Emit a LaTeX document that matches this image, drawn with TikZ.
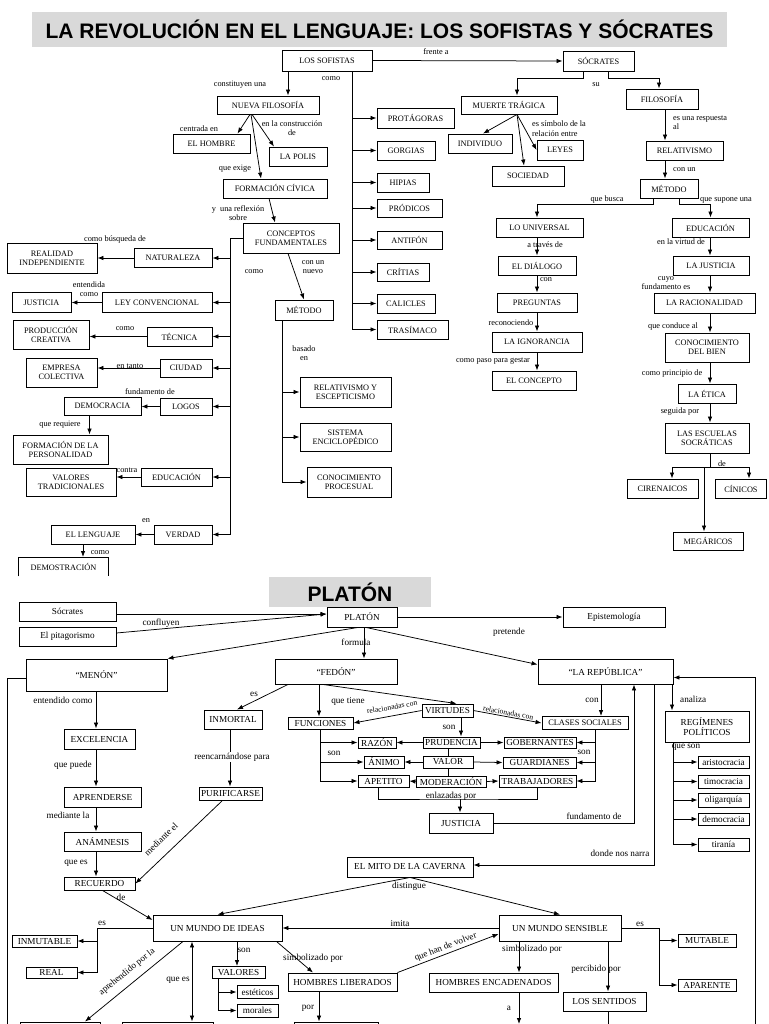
\documentclass[tikz,border=0pt]{standalone}
\usepackage{fontspec}
\setmainfont{Liberation Serif}
\newfontfamily\headfont{Liberation Sans}
\usetikzlibrary{arrows.meta, positioning, calc}
\definecolor{headgray}{RGB}{217,217,217}
\newcommand{\topsz}{\rmfamily\fontsize{8.3}{9.4}\selectfont}
\newcommand{\lowsz}{\rmfamily\fontsize{9.2}{10.2}\selectfont}

\begin{document}
\begin{tikzpicture}[
    x=1pt, y=-1pt,
    box/.style={draw, line width=0.9pt, inner sep=0pt, align=center, font=\topsz},
    pbox/.style={draw, line width=0.9pt, inner sep=0pt, align=center, font=\lowsz},
    wh/.style 2 args={minimum width=#1, minimum height=#2},
    lbl/.style={font=\topsz, inner sep=0pt, align=center},
    plbl/.style={font=\lowsz, inner sep=0pt, align=center},
    rel/.style={font=\rmfamily\fontsize{7.6}{8}\selectfont, inner sep=1pt},
    arrow/.style={-{Latex[length=6pt, width=4.5pt]}, line width=0.75pt},
    link/.style={line width=0.75pt},
    both/.style={{Latex[length=6pt, width=4.5pt]}-{Latex[length=6pt, width=4.5pt]}, line width=0.75pt},
    head/.style={fill=headgray, inner sep=0pt, font=\headfont\bfseries\fontsize{21}{24}\selectfont}
]
    \fill[white] (0,0) rectangle (768,1024);
    \useasboundingbox (0,0) rectangle (768,1024);

    % Title
    \node[head, wh={695}{35}] (title) at (379.5,29.5) {LA REVOLUCIÓN EN EL LENGUAJE: LOS SOFISTAS Y SÓCRATES};

    % Sofistas
    \node[box, wh={90}{21}] (sof) at (327,60.5) {LOS SOFISTAS};
    \node[box, wh={71}{20}] (socr) at (598.5,61) {SÓCRATES};
    \node[box, wh={102}{18}] (nfil) at (268,105) {NUEVA FILOSOFÍA};
    \node[box, wh={77}{19}] (hombre) at (211.5,143.5) {EL HOMBRE};
    \node[box, wh={58}{19}] (polis) at (298,156.5) {LA POLIS};
    \node[box, wh={104}{19}] (fciv) at (275,188.5) {FORMACIÓN CÍVICA};
    \node[box, wh={96}{30}] (conc) at (291,238) {CONCEPTOS\\FUNDAMENTALES};
    \node[box, wh={77}{20}] (prot) at (415.5,118) {PROTÁGORAS};
    \node[box, wh={58}{19}] (gorg) at (406,150.5) {GORGIAS};
    \node[box, wh={52}{19}] (hip) at (403,182.5) {HIPIAS};
    \node[box, wh={65}{18}] (prod) at (409.5,208) {PRÓDICOS};
    \node[box, wh={65}{18}] (ant) at (409.5,240) {ANTIFÓN};
    \node[box, wh={52}{18}] (crit) at (403,272) {CRÍTIAS};
    \node[box, wh={58}{19}] (cal) at (406,303.5) {CALICLES};
    \node[box, wh={71}{19}] (tras) at (412.5,329.5) {TRASÍMACO};

    % Conceptos fundamentales
    \node[box, wh={78}{19}] (natu) at (173,258) {NATURALEZA};
    \node[box, wh={90}{30}] (realid) at (52,258) {REALIDAD\\INDEPENDIENTE};
    \node[box, wh={110}{20}] (leyc) at (157,302.5) {LEY CONVENCIONAL};
    \node[box, wh={59}{20}] (justl) at (41.5,302.5) {JUSTICIA};
    \node[box, wh={65}{19}] (tecn) at (179.5,336.5) {TÉCNICA};
    \node[box, wh={76}{29}] (prodc) at (51,334.5) {PRODUCCIÓN\\CREATIVA};
    \node[box, wh={52}{18}] (ciud) at (186,368) {CIUDAD};
    \node[box, wh={71}{29}] (empr) at (61.5,372.5) {EMPRESA\\COLECTIVA};
    \node[box, wh={52}{17}] (logos) at (186,406.5) {LOGOS};
    \node[box, wh={77}{18}] (democ) at (102.5,406) {DEMOCRACIA};
    \node[box, wh={95}{29}] (formp) at (60.5,449.5) {FORMACIÓN DE LA\\PERSONALIDAD};
    \node[box, wh={71}{18}] (educl) at (176.5,477) {EDUCACIÓN};
    \node[box, wh={90}{28}] (valt) at (71,482) {VALORES\\TRADICIONALES};
    \node[box, wh={58}{19}] (verd) at (183,534.5) {VERDAD};
    \node[box, wh={84}{19}] (leng) at (93,534.5) {EL LENGUAJE};
    \node[lbl, wh={89}{19}, anchor=north] (demos) at (63.5,557) {DEMOSTRACIÓN};
    \draw[line width=0.9pt] (demos.south west) -- (demos.north west) -- (demos.north east) -- (demos.south east);
    \node[box, wh={58}{20}] (metl) at (304,310) {MÉTODO};
    \node[box, wh={91}{30}] (relesc) at (345.5,392) {RELATIVISMO Y\\ESCEPTICISMO};
    \node[box, wh={91}{28}] (sisenc) at (345.5,437) {SISTEMA\\ENCICLOPÉDICO};
    \node[box, wh={84}{30}] (conproc) at (349,482) {CONOCIMIENTO\\PROCESUAL};

    % Socrates
    \node[box, wh={96}{18}] (muerte) at (509,105) {MUERTE TRÁGICA};
    \node[box, wh={72}{20}] (filr) at (662,99) {FILOSOFÍA};
    \node[box, wh={64}{19}] (indiv) at (480,143.5) {INDIVIDUO};
    \node[box, wh={46}{20}] (leyes) at (560,150) {LEYES};
    \node[box, wh={72}{20}] (socied) at (528,176) {SOCIEDAD};
    \node[box, wh={77}{19}] (relat) at (684.5,150.5) {RELATIVISMO};
    \node[box, wh={58}{19}] (metr) at (669,188.5) {MÉTODO};
    \node[box, wh={87}{19}] (univ) at (539.5,227.5) {LO UNIVERSAL};
    \node[box, wh={77}{19}] (educr) at (710.5,227.5) {EDUCACIÓN};
    \node[box, wh={78}{19}] (dial) at (537,265.5) {EL DIÁLOGO};
    \node[box, wh={80}{19}] (preg) at (537,302.5) {PREGUNTAS};
    \node[box, wh={90}{20}] (ignor) at (537,342) {LA IGNORANCIA};
    \node[box, wh={84}{19}] (concep) at (534,380.5) {EL CONCEPTO};
    \node[box, wh={76}{19}] (justr) at (711,265.5) {LA JUSTICIA};
    \node[box, wh={101}{20}] (racio) at (704.5,303) {LA RACIONALIDAD};
    \node[box, wh={84}{29}] (bien) at (707,347.5) {CONOCIMIENTO\\DEL BIEN};
    \node[box, wh={58}{19}] (etica) at (707,393.5) {LA ÉTICA};
    \node[box, wh={84}{30}] (escu) at (707,438) {LAS ESCUELAS\\SOCRÁTICAS};
    \node[box, wh={71}{19}] (cire) at (662.5,488.5) {CIRENAICOS};
    \node[box, wh={51}{19}] (cini) at (741,488.5) {CÍNICOS};
    \node[box, wh={70}{18}] (mega) at (708,541) {MEGÁRICOS};

    % Top arrows
    \draw[arrow] (sof.east) -- (socr.west);
    \draw[arrow] ([xshift=-39pt]sof.south) -- ([xshift=20pt]nfil.north);
    \coordinate (strunk) at ([xshift=25pt]sof.south);
    \draw[arrow] (strunk) |- (tras.west);
    \draw[arrow] (strunk |- prot.west) -- (prot.west);
    \draw[arrow] (strunk |- gorg.west) -- (gorg.west);
    \draw[arrow] (strunk |- hip.west) -- (hip.west);
    \draw[arrow] (strunk |- prod.west) -- (prod.west);
    \draw[arrow] (strunk |- ant.west) -- (ant.west);
    \draw[arrow] (strunk |- crit.west) -- (crit.west);
    \draw[arrow] (strunk |- cal.west) -- (cal.west);
    \draw[arrow] ([xshift=-18pt]nfil.south) -- ([xshift=26pt]hombre.north);
    \draw[arrow] ([xshift=-16pt]nfil.south) -- ([xshift=-24pt]polis.north);
    \draw[arrow] ([xshift=-17pt]nfil.south) -- ([xshift=-14pt]fciv.north);
    \draw[arrow] ([xshift=-6pt]fciv.south) -- ([xshift=-16pt]conc.north);
    \draw[arrow] ([xshift=-3pt]conc.south) -- (metl.north);

    % Left branch
    \coordinate (ltrunk) at ([xshift=-12pt]conc.west);
    \draw[arrow] (conc.west) -- (ltrunk) |- (verd.east);
    \draw[arrow] (ltrunk |- natu.east) -- (natu.east);
    \draw[arrow] (ltrunk |- leyc.east) -- (leyc.east);
    \draw[arrow] (ltrunk |- tecn.east) -- (tecn.east);
    \draw[arrow] (ltrunk |- ciud.east) -- (ciud.east);
    \draw[arrow] (ltrunk |- logos.east) -- (logos.east);
    \draw[arrow] (ltrunk |- educl.east) -- (educl.east);
    \draw[arrow] (natu.west) -- (realid.east);
    \draw[arrow] (leyc.west) -- (justl.east);
    \draw[arrow] (tecn.west) -- (tecn.west -| prodc.east);
    \draw[arrow] (ciud.west) -- (ciud.west -| empr.east);
    \draw[arrow] (logos.west) -- (logos.west -| democ.east);
    \draw[arrow] ([xshift=-13pt]democ.south) -- ([xshift=-13pt]democ.south |- formp.north);
    \draw[arrow] (educl.west) -- (educl.west -| valt.east);
    \draw[arrow] (verd.west) -- (leng.east);
    \draw[arrow] ([xshift=-10pt]leng.south) -- ([xshift=-10pt]leng.south |- demos.north);
    \coordinate (mtrunk) at ([xshift=-22pt]metl.south);
    \draw[arrow] (mtrunk) |- (conproc.west);
    \draw[arrow] (mtrunk |- relesc.west) -- (relesc.west);
    \draw[arrow] (mtrunk |- sisenc.west) -- (sisenc.west);

    % Right branch
    \draw[arrow] ([xshift=-15pt]socr.south) -- ++(0,7) -| ([xshift=8pt]muerte.north);
    \draw[arrow] ([xshift=10pt]socr.south) -- ++(0,7) -| ([xshift=-3pt]filr.north);
    \draw[arrow] ([xshift=8pt]muerte.south) -- ([xshift=3pt]indiv.north);
    \draw[arrow] ([xshift=8pt]muerte.south) -- ([xshift=-4pt]socied.north);
    \draw[arrow] ([xshift=8pt]muerte.south) -- (leyes.west);
    \draw[arrow] ([xshift=3pt]filr.south) -- ([xshift=3pt]filr.south |- relat.north);
    \draw[arrow] ([xshift=-4pt]metr.north |- relat.south) -- ([xshift=-4pt]metr.north);
    \draw[arrow] ([xshift=-16pt]metr.south) -- ++(0,6) -| ([xshift=-2.5pt]univ.north);
    \draw[arrow] ([xshift=10pt]metr.south) -- ++(0,6) -| (educr.north);
    \draw[arrow] ([xshift=-2.5pt]univ.south) -- ([xshift=-2.5pt]univ.south |- dial.north);
    \draw[arrow] (dial.south) -- (dial.south |- preg.north);
    \draw[arrow] (preg.south) -- (preg.south |- ignor.north);
    \draw[arrow] (ignor.south) -- (ignor.south |- concep.north);
    \coordinate (rx) at (710,0);
    \draw[arrow] (educr.south -| rx) -- (justr.north -| rx);
    \draw[arrow] (justr.south -| rx) -- (racio.north -| rx);
    \draw[arrow] (racio.south -| rx) -- (bien.north -| rx);
    \draw[arrow] (bien.south -| rx) -- (etica.north -| rx);
    \draw[arrow] (etica.south -| rx) -- (escu.north -| rx);
    \coordinate (ebar) at (710,467);
    \draw[link] (escu.south -| rx) -- (ebar);
    \draw[arrow] (ebar) -| ([xshift=9.5pt]cire.north);
    \draw[arrow] (ebar) -| ([xshift=8pt]cini.north);
    \draw[arrow] ([xshift=-4pt]mega.north |- ebar) -- ([xshift=-4pt]mega.north);

    % Top labels
    \node[lbl] (lfrente) at (436,52) {frente a};
    \node[lbl] (lconst) at (240,85) {constituyen una};
    \node[lbl] (lcomo1) at (331,79) {como};
    \node[lbl] (lsu) at (596,85) {su};
    \node[lbl] (lcentr) at (199,129) {centrada en};
    \node[lbl] (lconstr) at (292,128) {en la construcción\\de};
    \node[lbl] (lexige) at (235,169) {que exige};
    \node[lbl] (lrefl) at (238,213) {y\ \ una reflexión\\sobre};
    \node[lbl] (lcomo2) at (254,272) {como};
    \node[lbl] (lnuevo) at (313,267) {con un\\nuevo};
    \node[lbl] (lbusq) at (115,239) {como búsqueda de};
    \node[lbl] (lentend) at (89,289) {entendida\\como};
    \node[lbl] (lcomo3) at (125,329) {como};
    \node[lbl] (ltanto) at (130,366) {en tanto};
    \node[lbl] (lfund1) at (150,392) {fundamento de};
    \node[lbl] (lrequ) at (60,425) {que requiere};
    \node[lbl] (lcontra) at (127,470) {contra};
    \node[lbl] (len) at (146,521) {en};
    \node[lbl] (lcomo4) at (100,553) {como};
    \node[lbl] (lbasado) at (304,353) {basado\\en};
    \node[lbl, anchor=west, align=left] (lsimb) at (532,128.5) {es símbolo de la\\relación entre};
    \node[lbl, anchor=west, align=left] (lresp) at (673,122.5) {es una respuesta\\al};
    \node[lbl, anchor=west] (lconun) at (673,170) {con un};
    \node[lbl] (lbusca) at (607,200) {que busca};
    \node[lbl] (lsupone) at (726,200) {que supone una};
    \node[lbl] (ltraves) at (545,245) {a través de};
    \node[lbl] (lcon1) at (546,280) {con};
    \node[lbl] (lrecon) at (511,323) {reconociendo};
    \node[lbl] (lpaso) at (493,361) {como paso para gestar};
    \node[lbl] (lvirtud) at (681,242) {en la virtud de};
    \node[lbl] (lcuyo) at (666,283) {cuyo\\fundamento es};
    \node[lbl] (lconduce) at (673,327) {que conduce al};
    \node[lbl] (lprinc) at (672,374) {como principio de};
    \node[lbl] (lseguida) at (680,412) {seguida por};
    \node[lbl] (lde1) at (722,464) {de};

    % Platon
    \node[head, wh={162}{30}] (platitle) at (350,592) {PLATÓN};
    \node[pbox, wh={70}{20}] (plat) at (362,617) {PLATÓN};
    \node[pbox, wh={97}{19}] (socl) at (67.5,611.5) {Sócrates};
    \node[pbox, wh={97}{19}] (pita) at (67.5,636.5) {El pitagorismo};
    \node[pbox, wh={102}{20}] (epis) at (614,617) {Epistemología};
    \node[pbox, wh={141}{32}] (menon) at (96.5,675) {``MENÓN''};
    \node[pbox, wh={122}{25}] (fedon) at (336,671.5) {``FEDÓN''};
    \node[pbox, wh={135}{25}] (repu) at (605.5,671.5) {``LA REPÚBLICA''};
    \node[pbox, wh={71}{20}] (excel) at (99.5,739) {EXCELENCIA};
    \node[pbox, wh={77}{20}] (apren) at (102.5,797) {APRENDERSE};
    \node[pbox, wh={77}{19}] (anam) at (102.5,841.5) {ANÁMNESIS};
    \node[pbox, wh={71}{13}] (recu) at (99.5,883.5) {RECUERDO};
    \node[pbox, wh={58}{19}] (inmor) at (233,719.5) {INMORTAL};
    \node[pbox, wh={63}{13}] (purif) at (230.5,793.5) {PURIFICARSE};
    \node[pbox, wh={65}{12}] (func) at (320.5,723) {FUNCIONES};
    \node[pbox, wh={51}{13}] (virt) at (447.5,710.5) {VIRTUDES};
    \node[pbox, wh={86}{13}, font=\rmfamily\fontsize{8.4}{9}\selectfont] (clases) at (585,723) {CLASES SOCIALES};
    \node[pbox, wh={38}{11}] (razon) at (377,742.5) {RAZÓN};
    \node[pbox, wh={40}{12}] (animo) at (384,762) {ÁNIMO};
    \node[pbox, wh={51}{12}] (apet) at (383.5,781) {APETITO};
    \node[pbox, wh={57}{11}] (prud) at (451.5,742.5) {PRUDENCIA};
    \node[pbox, wh={50}{12}] (valor) at (448,762) {VALOR};
    \node[pbox, wh={70}{11}] (moder) at (451,781.5) {MODERACIÓN};
    \node[pbox, wh={72}{11}] (gober) at (540,742.5) {GOBERNANTES};
    \node[pbox, wh={73}{11}] (guard) at (539.5,762.5) {GUARDIANES};
    \node[pbox, wh={77}{12}] (trab) at (537.5,781) {TRABAJADORES};
    \node[pbox, wh={64}{20}] (justp) at (461,823) {JUSTICIA};
    \node[pbox, wh={84}{31}] (regim) at (707,726.5) {REGÍMENES\\POLÍTICOS};
    \node[pbox, wh={51}{12}] (arist) at (723.5,762) {aristocracia};
    \node[pbox, wh={51}{13}] (timo) at (723.5,781.5) {timocracia};
    \node[pbox, wh={51}{14}] (olig) at (723.5,800) {oligarquía};
    \node[pbox, wh={51}{12}] (democ2) at (723.5,819) {democracia};
    \node[pbox, wh={51}{13}] (tiran) at (723.5,844.5) {tiranía};
    \node[pbox, wh={126}{20}] (mito) at (410,867) {EL MITO DE LA CAVERNA};
    \node[pbox, wh={129}{26}] (mideas) at (217.5,928) {UN MUNDO DE IDEAS};
    \node[pbox, wh={122}{26}] (msens) at (560,928) {UN MUNDO SENSIBLE};
    \node[pbox, wh={65}{12}] (inmut) at (44.5,941) {INMUTABLE};
    \node[pbox, wh={51}{11}] (real) at (51.5,972.5) {REAL};
    \node[pbox, wh={53}{12}] (valores) at (238.5,972.5) {VALORES};
    \node[pbox, wh={41}{13}] (estet) at (257.5,992) {estéticos};
    \node[pbox, wh={41}{13}] (moral) at (257.5,1010.5) {morales};
    \node[pbox, wh={109}{18}] (hlib) at (342.5,982) {HOMBRES LIBERADOS};
    \node[pbox, wh={129}{19}] (henc) at (493.5,982.5) {HOMBRES ENCADENADOS};
    \node[pbox, wh={83}{19}] (sent) at (604.5,1001.5) {LOS SENTIDOS};
    \node[pbox, wh={58}{13}] (mutab) at (707,940.5) {MUTABLE};
    \node[pbox, wh={58}{12}] (apar) at (707,985) {APARENTE};
    \node[pbox, wh={80}{30}] (bot1) at (60,1037) {};
    \node[pbox, wh={91}{30}] (bot2) at (167.5,1037) {};
    \node[pbox, wh={84}{30}] (bot3) at (336,1037) {};

    % Platon arrows
    \draw[arrow] ([yshift=-2.5pt]socl.east) -- ([yshift=3pt]plat.west);
    \draw[arrow] ([yshift=3.5pt]pita.east) -- ([yshift=3pt]plat.west);
    \draw[arrow] (plat.east) -- (epis.west);
    \draw[arrow] ([xshift=-4pt]plat.south) -- (menon.north east);
    \draw[arrow] ([xshift=2pt]plat.south) -- ([xshift=2pt]plat.south |- fedon.north);
    \draw[arrow] ([xshift=4pt]plat.south) -- ([yshift=7pt]repu.west);
    \coordinate (lb) at (7,1024);
    \draw[link] ([yshift=-3pt]menon.west) -| (lb);
    \coordinate (mx) at (96,0);
    \draw[arrow] (menon.south -| mx) -- (excel.north -| mx);
    \draw[arrow] (excel.south -| mx) -- (apren.north -| mx);
    \draw[arrow] (apren.south -| mx) -- (anam.north -| mx);
    \draw[arrow] (anam.south -| mx) -- (recu.north -| mx);
    \draw[arrow] ([xshift=3pt]recu.south) -- ([yshift=8pt]mideas.west);
    \draw[arrow] ([xshift=-48pt]fedon.south) -- ([xshift=4pt]inmor.north);
    \draw[arrow] ([xshift=-3pt]inmor.south) -- ([xshift=-3pt]inmor.south |- purif.north);
    \draw[arrow] ([xshift=-8pt]purif.south) -- (recu.east);
    \draw[arrow] ([xshift=-17pt]fedon.south) -- ([xshift=-17pt]fedon.south |- func.north);
    \draw[arrow] ([xshift=-13pt]fedon.south) -- ([xshift=9pt]virt.north);
    \draw[arrow] (virt.west) -- (func.east);
    \draw[arrow] (virt.east) -- (clases.west) node[midway, above, sloped, rel] (lrel2) {relacionadas con};
    \draw[arrow] ([xshift=13.5pt]virt.south) -- ([xshift=13.5pt]virt.south |- prud.north);
    \draw[arrow] (func.south) |- (apet.west);
    \draw[arrow] (func.south |- razon.west) -- (razon.west);
    \draw[arrow] (func.south |- animo.west) -- (animo.west);
    \draw[arrow] (prud.west) -- (razon.east);
    \draw[arrow] (prud.east) -- (gober.west);
    \draw[arrow] (valor.west) -- (animo.east);
    \draw[arrow] (valor.east) -- (guard.west);
    \draw[arrow] (moder.west) -- (apet.east);
    \draw[arrow] (moder.east) -- (trab.west);
    \draw[link] (prud.south -| valor.south) -- (valor.north);
    \draw[link] (valor.south) -- (valor.south |- moder.north);
    \draw[arrow] ([xshift=10pt]clases.south) |- (trab.east);
    \draw[arrow] ([xshift=10pt]clases.south |- gober.east) -- (gober.east);
    \draw[arrow] ([xshift=10pt]clases.south |- guard.east) -- (guard.east);
    \coordinate (enl) at (460,799);
    \draw[link] ([xshift=-5.5pt]apet.south) |- (enl) -| (trab.south);
    \draw[arrow] (enl) -- (enl |- justp.north);
    \draw[arrow] (justp.east) -| ([xshift=28.5pt]repu.south);
    \draw[arrow] ([xshift=48.5pt]repu.south) |- ([yshift=2pt]mito.east);
    \draw[arrow] ([xshift=-4.5pt]repu.south) -- ([xshift=-4.5pt]repu.south |- clases.north);
    \draw[arrow] ([xshift=66.5pt]repu.south) -- ([xshift=66.5pt]repu.south |- regim.north);
    \coordinate (rb) at (755,1024);
    \draw[arrow] (rb) |- ([yshift=-6pt]repu.east);
    \draw[arrow] ([xshift=-34pt]regim.south) |- (tiran.west);
    \draw[arrow] ([xshift=-34pt]regim.south |- arist.west) -- (arist.west);
    \draw[arrow] ([xshift=-34pt]regim.south |- timo.west) -- (timo.west);
    \draw[arrow] ([xshift=-34pt]regim.south |- olig.west) -- (olig.west);
    \draw[arrow] ([xshift=-34pt]regim.south |- democ2.west) -- (democ2.west);

    % Caverna
    \draw[arrow] (mito.south) -- (mideas.north);
    \draw[arrow] (mito.south) -- (msens.north);
    \draw[arrow] (msens.west) -- (mideas.east);
    \coordinate (ix) at (97,928);
    \draw[arrow] (mideas.west) -- (ix) |- (real.east);
    \draw[arrow] (ix |- inmut.east) -- (inmut.east);
    \draw[arrow] ([xshift=19.5pt]mideas.south) -- ([xshift=19.5pt]mideas.south |- valores.north);
    \draw[arrow] ([xshift=-20.5pt]valores.south) |- (moral.west);
    \draw[arrow] ([xshift=-20.5pt]valores.south |- estet.west) -- (estet.west);
    \draw[arrow] ([xshift=-34.5pt]mideas.south) -- ([xshift=25pt]bot1.north);
    \draw[both] ([xshift=-25.5pt]mideas.south) -- ([xshift=-25.5pt]mideas.south |- bot2.north);
    \draw[arrow] ([xshift=-6pt]mideas.south east) -- ([xshift=-29.5pt]hlib.north);
    \draw[arrow] (hlib.north east) -- ([yshift=-6pt]msens.west) node[midway, above, sloped, plbl, inner sep=2pt] (lvolv) {que han de volver};
    \draw[arrow] ([xshift=-23.5pt]hlib.south) -- ([xshift=-23.5pt]hlib.south |- bot3.north);
    \draw[arrow] ([xshift=-41pt]msens.south) -- ([xshift=-41pt]msens.south |- henc.north);
    \coordinate (hb) at (519,1024);
    \draw[arrow] (henc.south -| hb) -- (hb);
    \draw[arrow] ([xshift=48pt]msens.south) -- ([xshift=48pt]msens.south |- sent.north);
    \coordinate (sb) at (608,1024);
    \draw[link] (sent.south -| sb) -- (sb);
    \coordinate (sx) at (659,928);
    \draw[arrow] (msens.east) -- (sx) |- (apar.west);
    \draw[arrow] (sx |- mutab.west) -- (mutab.west);

    % Platon labels
    \node[plbl] (lconfl) at (161,623) {confluyen};
    \node[plbl] (lpret) at (509,632) {pretende};
    \node[plbl] (lform) at (356,642) {formula};
    \node[plbl] (lentcomo) at (63,700) {entendido como};
    \node[plbl] (les1) at (254,694) {es};
    \node[plbl] (ltiene) at (348,701) {que tiene};
    \node[plbl, fill=white, inner sep=1pt] (lreenc) at (232,757) {reencarnándose para};
    \node[rel, rotate=10] (lrel1) at (392,707) {relacionadas con};
    \node[plbl] (lson1) at (449,727) {son};
    \node[plbl] (lson2) at (334,753) {son};
    \node[plbl] (lcon2) at (592,700) {con};
    \node[plbl, anchor=west] (lanaliza) at (680,699) {analiza};
    \node[plbl] (lson3) at (584,752) {son};
    \node[plbl] (lqueson) at (686,747) {que son};
    \node[plbl] (lenlaz) at (451,796) {enlazadas por};
    \node[plbl] (lfund2) at (594,816) {fundamento de};
    \node[plbl] (lnarra) at (620,853) {donde nos narra};
    \node[plbl] (lpuede) at (73,765) {que puede};
    \node[plbl] (lmedla) at (68,815) {mediante la};
    \node[plbl] (lquees1) at (76,863) {que es};
    \node[plbl] (lde2) at (121,897) {de};
    \node[plbl, rotate=44] (lmedel) at (161,839) {mediante el};
    \node[plbl] (ldist) at (409,886) {distingue};
    \node[plbl] (limita) at (400,923) {imita};
    \node[plbl] (les2) at (102,923) {es};
    \node[plbl] (lson4) at (244,950) {son};
    \node[plbl, rotate=39] (laprh) at (127,972) {aprehendido por la};
    \node[plbl] (lquees2) at (178,980) {que es};
    \node[plbl] (lsimb1) at (313,958) {simbolizado por};
    \node[plbl] (lpor) at (308,1008) {por};
    \node[plbl] (lsimb2) at (532,949) {simbolizado por};
    \node[plbl] (la) at (509,1008) {a};
    \node[plbl] (lperc) at (596,969) {percibido por};
    \node[plbl] (les3) at (640,924) {es};
\end{tikzpicture}
\end{document}
